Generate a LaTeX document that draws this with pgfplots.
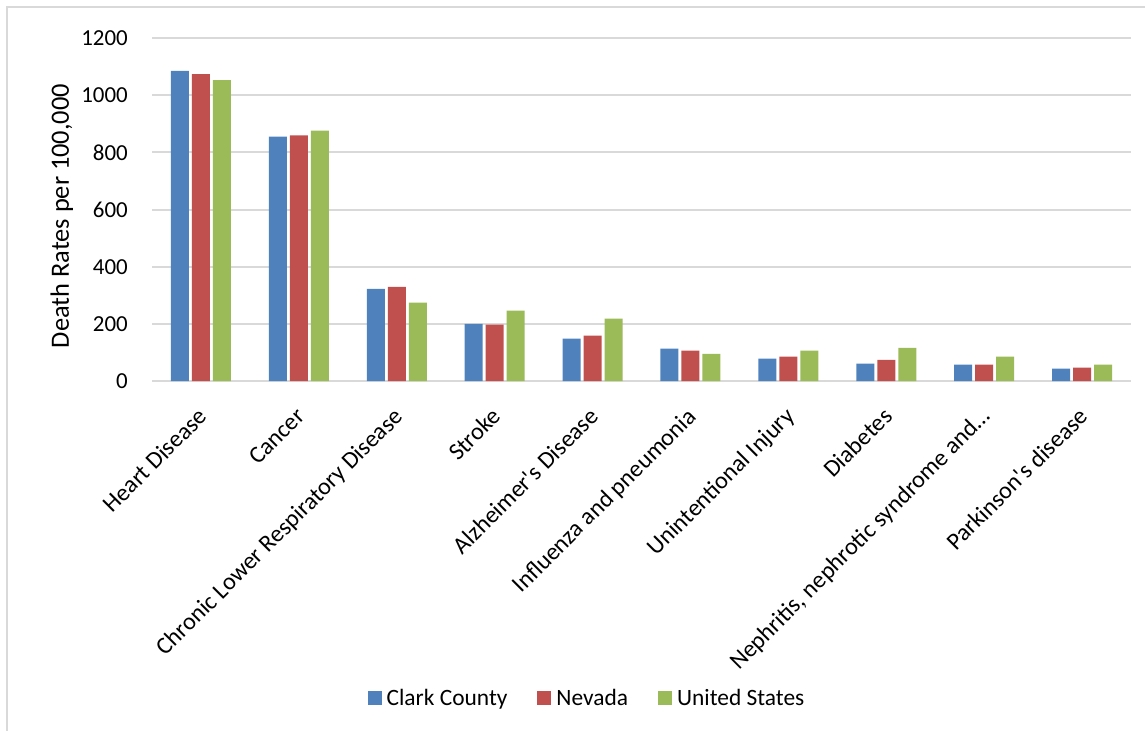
\documentclass[border=0pt]{standalone}
\usepackage{fontspec}
\setmainfont{Carlito}
\usepackage{pgfplots}
\pgfplotsset{compat=1.18}
\definecolor{cBlue}{HTML}{4F81BD}
\definecolor{cRed}{HTML}{C0504D}
\definecolor{cGreen}{HTML}{9BBB59}
\definecolor{gridgray}{HTML}{D9D9D9}
\begin{document}
\begin{tikzpicture}[font=\fontsize{23}{28}\selectfont]
\useasboundingbox (-152bp,-350bp) rectangle (993bp,381bp);
\draw[color=gridgray, line width=1.8bp] (-145bp,-420bp) -- (-145bp,374bp) -- (1100bp,374bp);
\begin{axis}[
  at={(0,0)}, anchor=south west,
  scale only axis, width=979bp, height=343bp,
  ybar=3bp, bar width=18bp,
  ymin=0, ymax=1200, ytick={0,200,...,1200},
  xmin=-0.5, xmax=9.5, xtick={0,...,9},
  xticklabels={Heart Disease, Cancer, Chronic Lower Respiratory Disease, Stroke, Alzheimer\textquotesingle s Disease, Influenza and pneumonia, Unintentional Injury, Diabetes, {Nephritis, nephrotic syndrome and…}, Parkinson\textquotesingle s disease},
  axis line style={draw=none},
  tick style={draw=none},
  ymajorgrids, major grid style={color=gridgray, line width=2bp},
  yticklabel style={/pgf/number format/1000 sep={}, /pgf/number format/assume math mode=true, inner sep=0pt, xshift=-24bp},
  xticklabel style={font=\fontsize{24.2}{29}\selectfont, xshift=6bp, yshift=-31bp, rotate=45, anchor=east, inner sep=0pt, text height=0.7em, text depth=0.25em},
  ylabel={Death Rates per 100,000},
  ylabel style={font=\fontsize{26.5}{31}\selectfont, at={(axis description cs:-0.092,0.481)}, anchor=center},
  legend style={at={(0.4433,-0.924)}, anchor=center, draw=none, fill=none, legend columns=-1,
    font=\fontsize{23.5}{28}\selectfont,
    /tikz/every odd column/.append style={column sep=5bp},
    /tikz/every even column/.append style={column sep=30bp},
    nodes={inner sep=0pt}},
  sqlegend/.style={legend image code/.code={\fill[##1] (0bp,-7bp) rectangle (14bp,7bp);}},
]
\addplot[fill=cBlue, draw=none, sqlegend] coordinates {(0,1085) (1,855) (2,322) (3,200) (4,148) (5,113) (6,78) (7,61) (8,57) (9,43)};
\addplot[fill=cRed, draw=none, sqlegend] coordinates {(0,1074) (1,859) (2,329) (3,197) (4,159) (5,106) (6,85) (7,74) (8,57) (9,47)};
\addplot[fill=cGreen, draw=none, sqlegend] coordinates {(0,1053) (1,876) (2,274) (3,246) (4,218) (5,95) (6,106) (7,116) (8,85) (9,57)};
\legend{Clark County, Nevada, United States}
\end{axis}
\end{tikzpicture}
\end{document}
